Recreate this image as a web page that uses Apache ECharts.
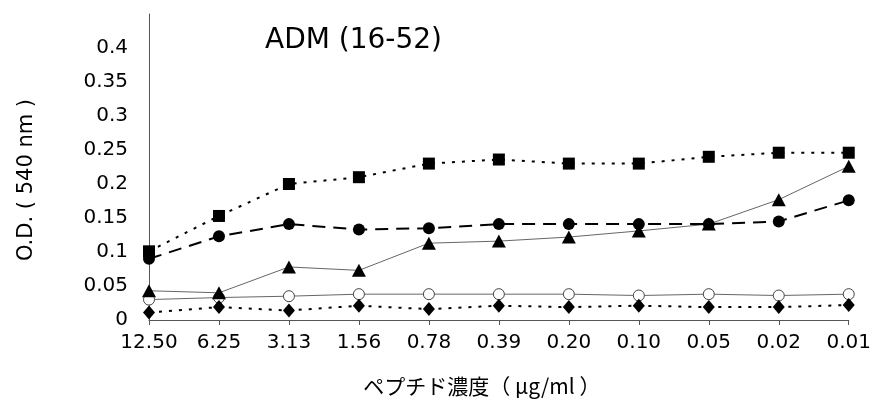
<!DOCTYPE html>
<html><head><meta charset="utf-8">
<script src="https://cdn.jsdelivr.net/npm/echarts@6/dist/echarts.min.js"></script>
<style>html,body{margin:0;padding:0;background:#fff}#c{width:874px;height:404px}</style>
</head><body><div id="c"></div>
<script>
var categories = ['12.50','6.25','3.13','1.56','0.78','0.39','0.20','0.10','0.05','0.02','0.01'];
var squareVals   = [0.101,0.153,0.200,0.210,0.230,0.236,0.230,0.230,0.240,0.246,0.246];
var circleVals   = [0.090,0.123,0.141,0.133,0.135,0.141,0.141,0.141,0.141,0.145,0.176];
var triangleVals = [0.043,0.040,0.078,0.073,0.113,0.116,0.122,0.131,0.141,0.177,0.226];
var openVals     = [0.030,0.033,0.035,0.038,0.038,0.038,0.038,0.036,0.038,0.036,0.038];
var diamondVals  = [0.011,0.019,0.014,0.021,0.016,0.021,0.019,0.021,0.019,0.019,0.022];
var yTicks = [0,0.05,0.1,0.15,0.2,0.25,0.3,0.35,0.4];

var chart = echarts.init(document.getElementById('c'));
chart.setOption({
  animation:false,
  backgroundColor:'#fff',
  title:{text:'ADM (16-52)', left:260, top:22, textStyle:{fontFamily:'DejaVu Sans', fontSize:28, fontWeight:'normal', color:'#000'}},
  grid:{left:149, right:24, top:14, bottom:84},
  xAxis:{type:'category', data:categories, boundaryGap:false,
    axisLine:{lineStyle:{color:'#555', width:1}},
    axisTick:{show:true, length:5, interval:0, lineStyle:{color:'#555'}},
    axisLabel:{color:'#000', fontFamily:'DejaVu Sans', fontSize:20, margin:13, interval:0},
    name:'ペプチド濃度（ μg/ml ）', nameLocation:'middle', nameGap:56,
    nameTextStyle:{color:'#000', fontFamily:'Noto Sans CJK JP', fontSize:21, padding:[0,34,0,0]}
  },
  yAxis:{type:'value', min:0, max:0.45, interval:0.05,
    axisLine:{show:true, lineStyle:{color:'#555', width:1}},
    axisTick:{show:false}, splitLine:{show:false},
    axisLabel:{color:'#000', fontFamily:'DejaVu Sans', fontSize:20, margin:21,
      formatter:function(v){ var r=Math.round(v*100)/100; return yTicks.indexOf(r)>=0 ? String(r) : ''; }},
    name:'O.D. ( 540 nm )', nameLocation:'middle', nameGap:112,
    nameTextStyle:{color:'#000', fontFamily:'DejaVu Sans', fontSize:21, padding:[0,0,0,-26]}
  },
  series:[
    {type:'line', data:openVals, symbol:'circle', symbolSize:11,
      itemStyle:{color:'#fff', borderColor:'#444', borderWidth:1},
      lineStyle:{color:'#666', width:1, type:'solid'}, z:2},
    {type:'line', data:diamondVals, symbol:'diamond', symbolSize:[12,14],
      itemStyle:{color:'#000'}, lineStyle:{color:'#000', width:2, type:[3,7]}, z:3},
    {type:'line', data:triangleVals, symbol:'triangle', symbolSize:[14,13],
      itemStyle:{color:'#000'}, lineStyle:{color:'#666', width:1, type:'solid'}, z:4},
    {type:'line', data:circleVals, symbol:'circle', symbolSize:12,
      itemStyle:{color:'#000'}, lineStyle:{color:'#000', width:2, type:[13,8]}, z:5},
    {type:'line', data:squareVals, symbol:'rect', symbolSize:12,
      itemStyle:{color:'#000'}, lineStyle:{color:'#000', width:2, type:[3,7]}, z:6}
  ]
});
</script></body></html>
